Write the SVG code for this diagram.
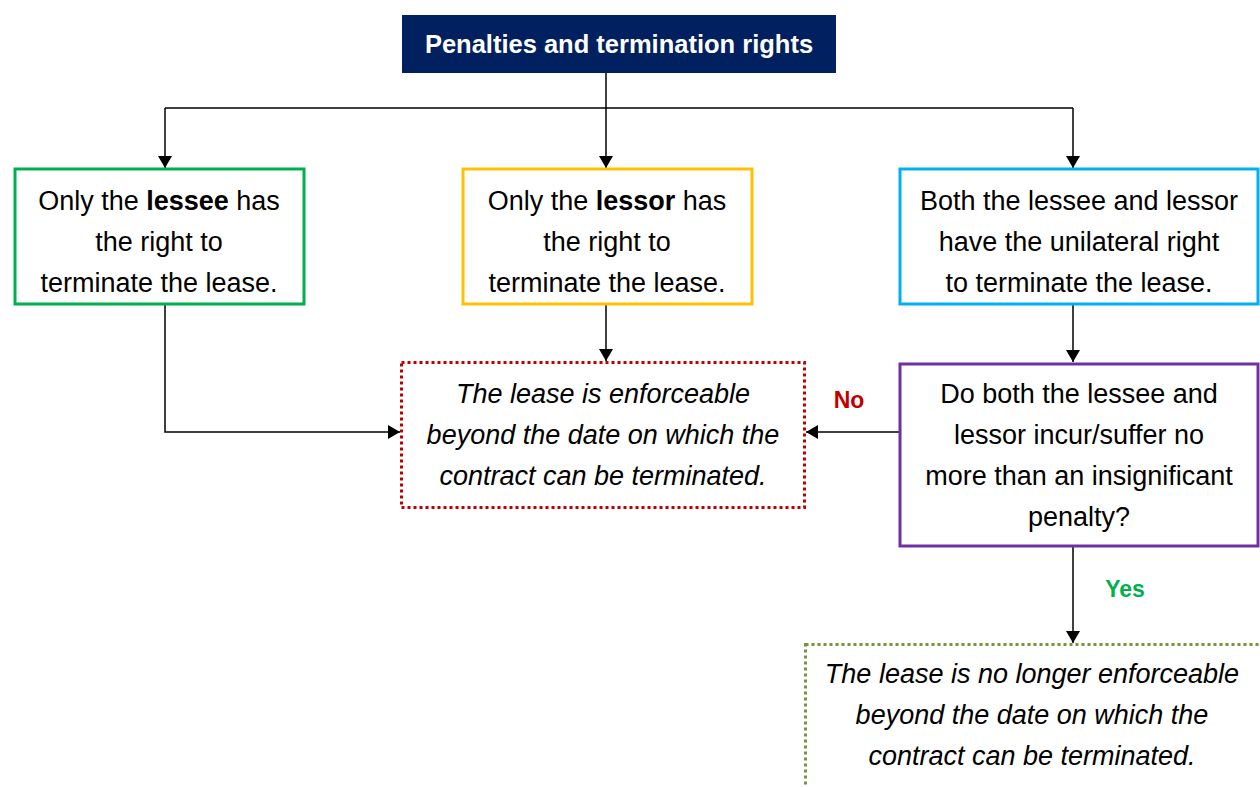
<svg xmlns="http://www.w3.org/2000/svg" width="1260" height="787" viewBox="0 0 1260 787">
<style>
text{font-family:"Liberation Sans",Arial,sans-serif;font-size:27px;fill:#000;text-anchor:middle}
.it{font-style:italic}
.b{font-weight:bold}
.box{fill:#fff;stroke-width:3}
.ln{fill:none;stroke:#000;stroke-width:1.5}
</style>
<defs>
<marker id="ah" markerWidth="12" markerHeight="14" refX="12" refY="7" orient="auto" markerUnits="userSpaceOnUse" viewBox="0 0 12 14">
<path d="M0,0 L12,7 L0,14 z" fill="#000"/>
</marker>
</defs>
<rect width="1260" height="787" fill="#fff"/>
<g id="connectors">
<path class="ln" d="M606,73 V108"/>
<path class="ln" d="M165,108 H1073"/>
<path class="ln" d="M165,108 V168" marker-end="url(#ah)"/>
<path class="ln" d="M606,108 V168" marker-end="url(#ah)"/>
<path class="ln" d="M1073,108 V168" marker-end="url(#ah)"/>
<path class="ln" d="M165,304 V432 H400" marker-end="url(#ah)"/>
<path class="ln" d="M606,304 V361" marker-end="url(#ah)"/>
<path class="ln" d="M1073,304 V362" marker-end="url(#ah)"/>
<path class="ln" d="M899,432 H806" marker-end="url(#ah)"/>
<path class="ln" d="M1073,546 V643" marker-end="url(#ah)"/>
<text x="849" y="408" class="b" style="fill:#c00000;font-size:23px">No</text>
<text x="1125" y="597" class="b" style="fill:#00b050;font-size:23px">Yes</text>
</g>
<g id="title">
<rect x="402" y="15" width="434" height="58" fill="#002060"/>
<text x="619" y="53" class="b" style="fill:#fff;font-size:25.5px">Penalties and termination rights</text>
</g>
<g id="lessee">
<rect class="box" x="15" y="169" width="289" height="135" stroke="#00b050"/>
<text x="159" y="210">Only the <tspan class="b">lessee</tspan> has</text>
<text x="159" y="251">the right to</text>
<text x="159" y="292">terminate the lease.</text>
</g>
<g id="lessor">
<rect class="box" x="463" y="169" width="289" height="135" stroke="#ffc000"/>
<text x="607" y="210">Only the <tspan class="b">lessor</tspan> has</text>
<text x="607" y="251">the right to</text>
<text x="607" y="292">terminate the lease.</text>
</g>
<g id="both">
<rect class="box" x="900" y="169" width="358" height="135" stroke="#00b0f0"/>
<text x="1079" y="210">Both the lessee and lessor</text>
<text x="1079" y="251">have the unilateral right</text>
<text x="1079" y="292">to terminate the lease.</text>
</g>
<g id="enforceable">
<rect x="401.5" y="362.5" width="403" height="145" fill="#fff" stroke="#c00000" stroke-width="3" stroke-dasharray="3 3"/>
<text x="603" y="403" class="it">The lease is enforceable</text>
<text x="603" y="444" class="it">beyond the date on which the</text>
<text x="603" y="485" class="it">contract can be terminated.</text>
</g>
<g id="question">
<rect class="box" x="900" y="364" width="358" height="182" stroke="#7030a0"/>
<text x="1079" y="403">Do both the lessee and</text>
<text x="1079" y="444">lessor incur/suffer no</text>
<text x="1079" y="485">more than an insignificant</text>
<text x="1079" y="526">penalty?</text>
</g>
<g id="not-enforceable">
<rect x="805.5" y="644.5" width="460" height="150" fill="#fff" stroke="#77933c" stroke-width="3" stroke-dasharray="3 3"/>
<text x="1032" y="683" class="it">The lease is no longer enforceable</text>
<text x="1032" y="724" class="it">beyond the date on which the</text>
<text x="1032" y="765" class="it">contract can be terminated.</text>
</g>
</svg>
